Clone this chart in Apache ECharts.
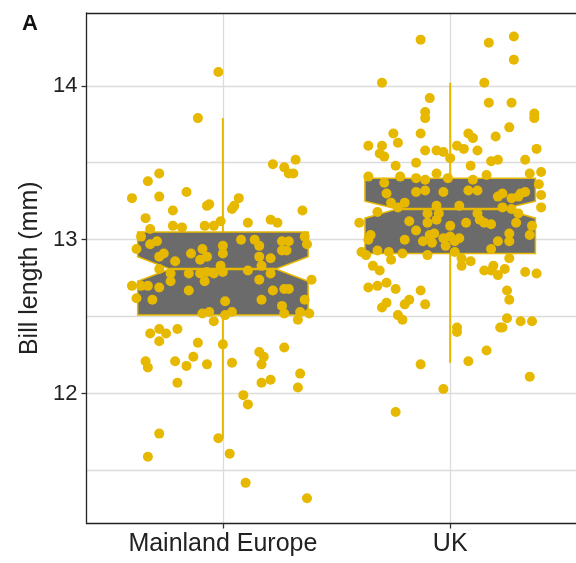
<!DOCTYPE html>
<html>
<head>
<meta charset="utf-8">
<script src="https://cdn.jsdelivr.net/npm/echarts@6/dist/echarts.min.js"></script>
<style>
  html, body { margin: 0; padding: 0; background: #ffffff; }
  #chart { width: 576px; height: 563px; }
</style>
</head>
<body>
<div id="chart"></div>
<script>
// Regions on the x axis
const regions = ['Mainland Europe', 'UK'];

// Individual birds: horizontal jitter (category units) and bill length (mm)
const europeJitter = [
  -0.02, -0.11, 0.22, 0.27, 0.29, 0.31, 0.32, -0.33, -0.28, -0.40,
  -0.28, -0.16, -0.22, -0.34, -0.32, -0.07, -0.06, 0.04, 0.05, 0.07,
  0.11, -0.22, -0.18, -0.08, -0.04, -0.01, 0.21, 0.24, 0.35, -0.36,
  -0.38, -0.32, -0.29, -0.28, -0.26, -0.21, -0.14, -0.09, -0.10, -0.07,
  0.00, 0.00, 0.08, 0.14, 0.16, 0.16, 0.21, 0.26, 0.29, 0.28,
  0.26, 0.36, 0.37, -0.28, -0.23, -0.23, -0.15, -0.07, -0.01, 0.00,
  0.11, 0.17, 0.16, 0.39, -0.40, -0.36, -0.33, -0.28, -0.38, -0.31,
  -0.15, -0.08, 0.01, 0.22, 0.27, 0.29, 0.17, 0.36, 0.26, 0.27,
  0.04, 0.01, -0.09, -0.06, -0.04, 0.34, 0.33, 0.38, -0.10, -0.04,
  0.21, -0.32, -0.28, -0.25, -0.20, -0.28, -0.11, 0.00, -0.34, -0.33,
  -0.21, -0.16, -0.13, -0.07, 0.04, 0.16, 0.18, 0.17, 0.27, 0.34,
  -0.20, 0.17, 0.21, 0.33, 0.09, 0.11, -0.28, -0.33, -0.02, 0.03,
  0.10, 0.37
];
const europeLength = [
  14.09, 13.79, 13.49, 13.47, 13.43, 13.43, 13.52, 13.38, 13.43, 13.27,
  13.28, 13.31, 13.19, 13.14, 13.07, 13.22, 13.23, 13.20, 13.22, 13.27,
  13.11, 13.09, 13.08, 13.09, 13.09, 13.12, 13.13, 13.11, 13.19, 13.02,
  12.94, 12.97, 12.99, 12.89, 12.91, 12.86, 12.91, 12.94, 12.87, 12.89,
  12.96, 12.91, 13.00, 13.00, 12.96, 12.89, 12.88, 12.99, 12.99, 12.93,
  12.93, 13.02, 12.97, 12.81, 12.73, 12.78, 12.78, 12.79, 12.83, 12.79,
  12.80, 12.83, 12.74, 12.74, 12.70, 12.70, 12.70, 12.69, 12.62, 12.61,
  12.67, 12.73, 12.60, 12.67, 12.68, 12.68, 12.61, 12.61, 12.57, 12.52,
  12.53, 12.51, 12.52, 12.53, 12.47, 12.53, 12.48, 12.52, 12.78, 12.78,
  12.78, 12.39, 12.42, 12.39, 12.42, 12.34, 12.33, 12.32, 12.21, 12.17,
  12.21, 12.18, 12.24, 12.19, 12.20, 12.27, 12.24, 12.19, 12.30, 12.13,
  12.07, 12.07, 12.09, 12.04, 11.99, 11.93, 11.74, 11.59, 11.71, 11.61,
  11.42, 11.32
];
const ukJitter = [
  -0.13, 0.17, 0.28, 0.28, -0.30, 0.15, -0.09, -0.11, -0.11, 0.17,
  0.27, 0.37, 0.37, 0.26, 0.20, -0.13, -0.25, -0.23, -0.36, -0.30,
  -0.31, -0.29, 0.08, 0.10, -0.11, -0.06, -0.03, 0.00, 0.03, 0.06,
  0.12, 0.38, -0.24, -0.15, 0.09, 0.18, 0.21, 0.33, 0.40, 0.35,
  0.16, -0.06, -0.22, -0.36, -0.29, -0.15, -0.11, -0.01, 0.10, 0.39,
  -0.28, -0.15, -0.11, -0.03, 0.08, 0.12, 0.21, 0.23, 0.27, 0.30,
  0.31, 0.33, 0.40, -0.26, -0.23, -0.20, -0.06, 0.04, 0.23, 0.27,
  0.30, 0.40, -0.32, -0.10, -0.05, 0.12, -0.40, -0.18, -0.15, -0.10,
  -0.06, 0.00, 0.07, 0.13, 0.15, 0.18, 0.29, 0.36, -0.35, -0.36,
  -0.20, -0.12, -0.09, -0.07, -0.08, -0.03, 0.00, 0.02, 0.04, -0.02,
  0.21, 0.26, 0.26, 0.35, -0.39, -0.32, -0.27, -0.21, -0.10, 0.02,
  0.05, 0.09, 0.18, 0.26, -0.26, -0.37, 0.05, -0.34, -0.31, 0.15,
  0.18, 0.19, 0.21, 0.24, 0.33, 0.38, -0.36, -0.32, -0.28, -0.24,
  -0.13, -0.18, -0.20, -0.30, -0.28, -0.11, -0.23, -0.21, 0.25, 0.26,
  0.25, 0.22, 0.23, 0.31, 0.36, 0.03, 0.03, 0.16, 0.08, -0.13,
  0.35, -0.03, -0.24
];
const ukLength = [
  14.30, 14.28, 14.32, 14.17, 14.02, 14.02, 13.92, 13.83, 13.79, 13.89,
  13.89, 13.82, 13.79, 13.73, 13.67, 13.69, 13.69, 13.63, 13.61, 13.61,
  13.56, 13.54, 13.69, 13.66, 13.58, 13.58, 13.57, 13.53, 13.61, 13.59,
  13.58, 13.59, 13.48, 13.50, 13.48, 13.51, 13.52, 13.52, 13.44, 13.43,
  13.42, 13.43, 13.41, 13.41, 13.37, 13.40, 13.39, 13.40, 13.39, 13.36,
  13.30, 13.31, 13.32, 13.31, 13.32, 13.32, 13.28, 13.30, 13.27, 13.28,
  13.30, 13.31, 13.29, 13.24, 13.21, 13.24, 13.22, 13.22, 13.21, 13.20,
  13.17, 13.21, 13.18, 13.17, 13.17, 13.17, 13.11, 13.12, 13.06, 13.11,
  13.13, 13.09, 13.11, 13.13, 13.11, 13.10, 13.11, 13.09, 13.03, 13.00,
  13.00, 12.99, 13.03, 13.04, 12.98, 13.01, 13.02, 12.99, 13.01, 12.96,
  12.99, 13.04, 12.99, 13.03, 12.92, 12.93, 12.92, 12.91, 12.90, 12.92,
  12.88, 12.86, 12.94, 12.88, 12.87, 12.90, 12.83, 12.83, 12.80, 12.80,
  12.80, 12.83, 12.77, 12.81, 12.79, 12.78, 12.69, 12.70, 12.72, 12.68,
  12.67, 12.61, 12.58, 12.56, 12.59, 12.58, 12.51, 12.48, 12.67, 12.61,
  12.49, 12.43, 12.43, 12.47, 12.47, 12.43, 12.40, 12.28, 12.21, 12.19,
  12.11, 12.03, 11.88
];

// Notched box summaries, one entry per region
const whiskerLow  = [11.71, 12.20];
const q1          = [12.51, 12.91];
const notchLow    = [12.73, 13.14];
const median      = [12.81, 13.20];
const notchHigh   = [12.89, 13.25];
const q3          = [13.05, 13.40];
const whiskerHigh = [13.79, 14.02];

// Axis ticks and guide lines
const yTicks = [12, 13, 14];
const yMinorLines = [11.5, 12.5, 13.5];
const xTicks = [0, 1];

const GOLD = '#E7B800';
const BOX_FILL = '#6b6b6b';
const INK = '#222222';
const FONT = '"Liberation Sans", Arial, Helvetica, sans-serif';
const BOX_WIDTH = 0.75;     // category units
const NOTCH_INSET = 0.19;   // fraction of box width cut in at the median

const boxData = regions.map((_, i) => [
  i, whiskerLow[i], q1[i], notchLow[i], median[i], notchHigh[i], q3[i], whiskerHigh[i]
]);

function renderNotchedBox(params, api) {
  const x = api.value(0);
  const py = v => api.coord([x, v])[1];
  const cx = api.coord([x, api.value(4)])[0];
  const width = api.size([BOX_WIDTH, 0])[0];
  const half = width / 2;
  const inset = width * NOTCH_INSET;
  const yLo = py(api.value(1)), yQ1 = py(api.value(2)), yNL = py(api.value(3));
  const yMed = py(api.value(4)), yNH = py(api.value(5)), yQ3 = py(api.value(6));
  const yHi = py(api.value(7));
  const l = cx - half, r = cx + half;
  return {
    type: 'group',
    children: [
      { type: 'line', shape: { x1: cx, y1: yLo, x2: cx, y2: yQ1 },
        style: { stroke: GOLD, lineWidth: 2 } },
      { type: 'line', shape: { x1: cx, y1: yQ3, x2: cx, y2: yHi },
        style: { stroke: GOLD, lineWidth: 2 } },
      { type: 'polygon',
        shape: { points: [
          [l, yQ3], [l, yNH], [l + inset, yMed], [l, yNL], [l, yQ1],
          [r, yQ1], [r, yNL], [r - inset, yMed], [r, yNH], [r, yQ3]
        ] },
        style: { fill: BOX_FILL, stroke: GOLD, lineWidth: 1.5, lineJoin: 'miter' } },
      { type: 'line', shape: { x1: l + inset, y1: yMed, x2: r - inset, y2: yMed },
        style: { stroke: GOLD, lineWidth: 2.5 } }
    ]
  };
}

const X_MIN = -0.6, X_MAX = 1.5535;
const Y_MIN = 11.156, Y_MAX = 14.473;

const guideLines = []
  .concat(yTicks.map(v => ({ yAxis: v })))
  .concat(yMinorLines.map(v => ({ yAxis: v })))
  .concat(xTicks.map(v => ({ xAxis: v })));

const chart = echarts.init(document.getElementById('chart'), null, { renderer: 'canvas' });
chart.setOption({
  animation: false,
  backgroundColor: '#ffffff',
  grid: { left: 86.5, right: 0, top: 13, bottom: 39.5, containLabel: false },
  graphic: [{
    type: 'text', left: 22, top: 13,
    style: { text: 'A', font: 'bold 22px ' + FONT, fill: '#111111' }
  }],
  xAxis: [{
    type: 'value', min: X_MIN, max: X_MAX, position: 'bottom',
    axisLine: { show: true, onZero: false, lineStyle: { color: INK, width: 1.3 } },
    axisTick: { show: true, customValues: xTicks, length: 5, lineStyle: { color: '#333', width: 1.3 } },
    axisLabel: {
      customValues: xTicks, margin: 8, fontSize: 25, color: INK, fontFamily: FONT,
      formatter: v => regions[Math.round(v)]
    },
    splitLine: { show: false }
  }, {
    type: 'value', min: X_MIN, max: X_MAX, position: 'top',
    axisLine: { show: true, onZero: false, lineStyle: { color: INK, width: 1.3 } },
    axisTick: { show: false }, axisLabel: { show: false }, splitLine: { show: false }
  }],
  yAxis: {
    type: 'value', min: Y_MIN, max: Y_MAX,
    name: 'Bill length (mm)', nameLocation: 'middle', nameGap: 37,
    nameTextStyle: { fontSize: 25, color: INK, fontFamily: FONT },
    axisLine: { show: true, onZero: false, lineStyle: { color: INK, width: 1.3 } },
    axisTick: { show: true, customValues: yTicks, length: 5, lineStyle: { color: '#333', width: 1.3 } },
    axisLabel: { customValues: yTicks, margin: 9, fontSize: 22, color: INK, fontFamily: FONT },
    splitLine: { show: false }
  },
  series: [{
    type: 'line', data: [], z: 0, silent: true,
    markLine: {
      silent: true, symbol: 'none', animation: false, z: 0,
      label: { show: false },
      lineStyle: { color: '#dcdcdc', width: 1.3, type: 'solid' },
      emphasis: { disabled: true },
      data: guideLines
    }
  }, {
    type: 'custom', z: 2,
    renderItem: renderNotchedBox,
    encode: { x: 0, y: [1, 2, 3, 4, 5, 6, 7] },
    data: boxData
  }, {
    type: 'scatter', z: 3, name: regions[0], symbolSize: 10,
    itemStyle: { color: GOLD, opacity: 1 },
    data: europeJitter.map((j, i) => [0 + j, europeLength[i]])
  }, {
    type: 'scatter', z: 3, name: regions[1], symbolSize: 10,
    itemStyle: { color: GOLD, opacity: 1 },
    data: ukJitter.map((j, i) => [1 + j, ukLength[i]])
  }]
});
</script>
</body>
</html>
